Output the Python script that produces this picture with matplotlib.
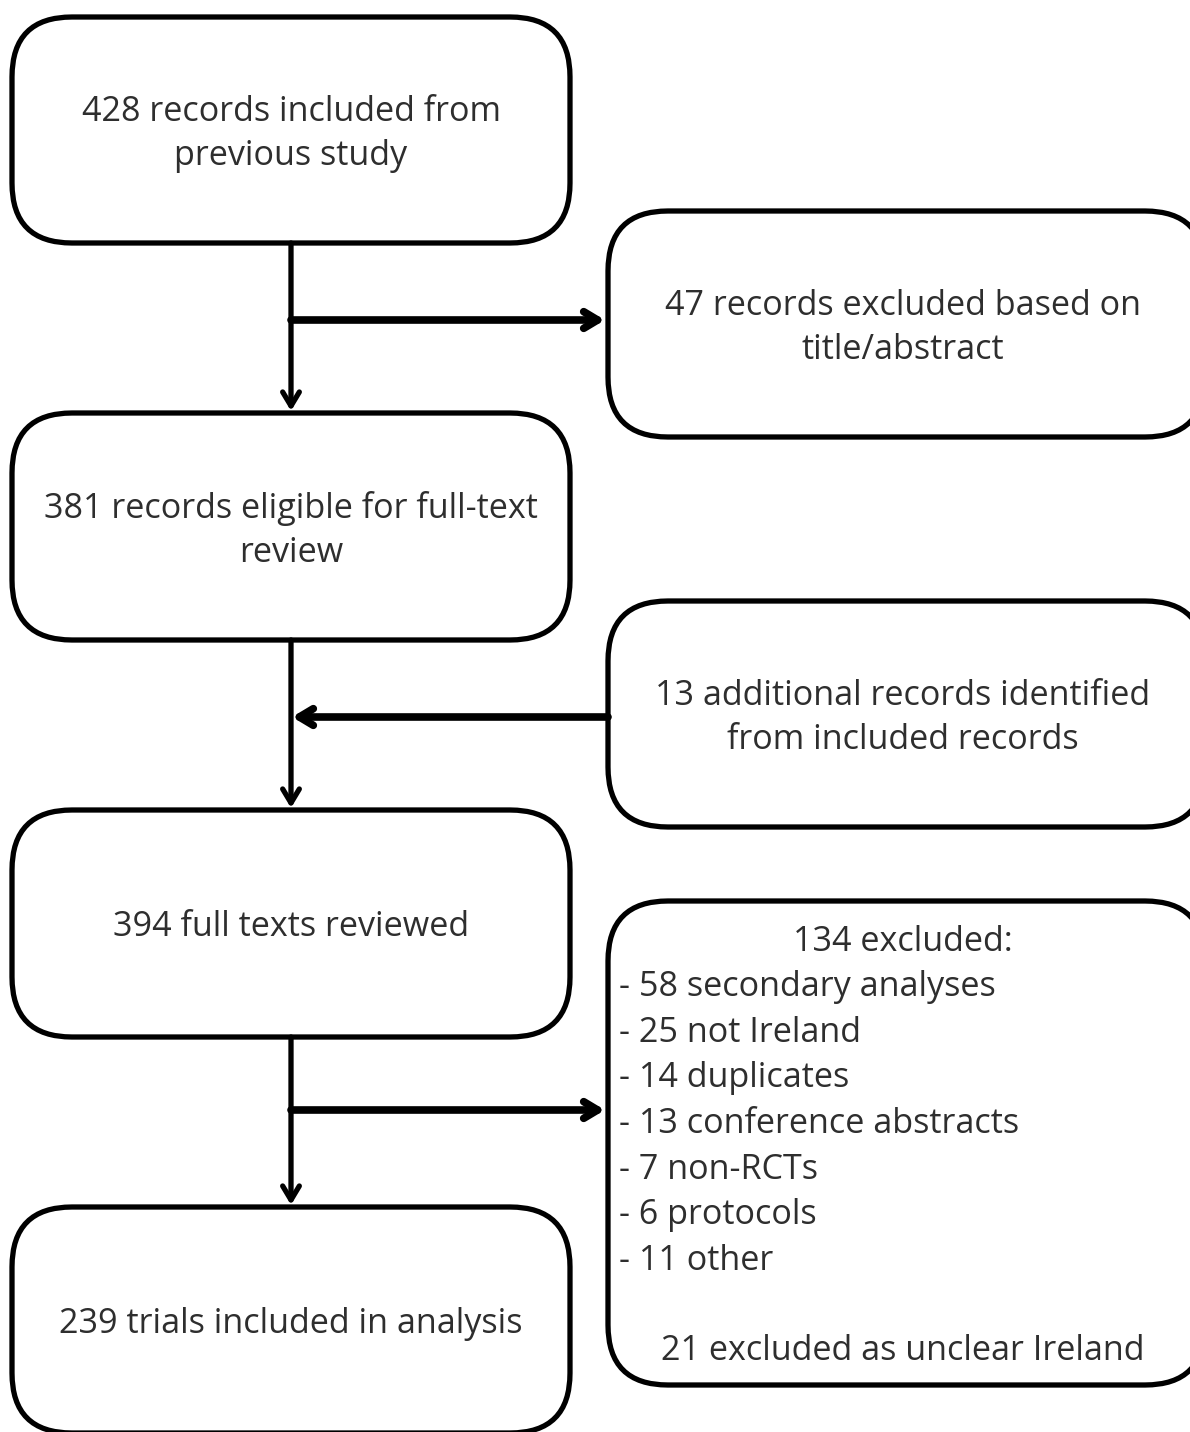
import matplotlib.pyplot as plt
from matplotlib.patches import FancyBboxPatch

plt.rcParams['font.family'] = ['Open Sans', 'DejaVu Sans']

# box texts (main column, then side column)
main_texts = [
    "428 records included from\nprevious study",
    "381 records eligible for full-text\nreview",
    "394 full texts reviewed",
    "239 trials included in analysis",
]
side_texts = [
    "47 records excluded based on\ntitle/abstract",
    "13 additional records identified\nfrom included records",
]
excl_title = "134 excluded:"
excl_items = [
    "- 58 secondary analyses",
    "- 25 not Ireland",
    "- 14 duplicates",
    "- 13 conference abstracts",
    "- 7 non-RCTs",
    "- 6 protocols",
    "- 11 other",
]
excl_footer = "21 excluded as unclear Ireland"

W, H = 1190, 1432
fig = plt.figure(figsize=(W / 100, H / 100), dpi=100)
ax = fig.add_axes([0, 0, 1, 1])
ax.set_xlim(0, W)
ax.set_ylim(H, 0)
ax.axis('off')

txt_col = '#2e2e2e'
fs = 24.6
R = 60
dy = 4  # text sits a touch below box centre


def box(x0, y0, x1, y1):
    p = FancyBboxPatch((x0 + R, y0 + R), (x1 - x0) - 2 * R, (y1 - y0) - 2 * R,
                       boxstyle=f"round,pad={R},rounding_size={R}",
                       fc='white', ec='black', lw=3.8, clip_on=True)
    ax.add_patch(p)


def arrow(x0, y0, x1, y1, lw):
    ax.annotate('', xy=(x1, y1), xytext=(x0, y0),
                arrowprops=dict(arrowstyle='->,head_length=1.0,head_width=0.6',
                                lw=lw, color='black', shrinkA=0, shrinkB=0,
                                capstyle='round', joinstyle='round'))


# main column
main_y = [(17, 243), (413, 640), (810, 1037), (1207, 1433)]
mx0, mx1 = 12, 570
for (y0, y1), t in zip(main_y, main_texts):
    box(mx0, y0, mx1, y1)
    ax.text((mx0 + mx1) / 2, (y0 + y1) / 2 + dy, t, ha='center', va='center',
            fontsize=fs, color=txt_col, linespacing=1.4)

# side column
sx0, sx1 = 608, 1205
side_y = [(211, 437), (601, 827)]
for (y0, y1), t in zip(side_y, side_texts):
    box(sx0, y0, sx1, y1)
    ax.text(903, (y0 + y1) / 2 + dy, t, ha='center', va='center',
            fontsize=fs, color=txt_col, linespacing=1.4)

# exclusion box
box(sx0, 901, sx1, 1385)
ax.text(903, 938 + dy, excl_title, ha='center', va='center', fontsize=fs, color=txt_col)
for i, t in enumerate(excl_items):
    ax.text(619, 983 + dy + i * 45.7, t, ha='left', va='center', fontsize=fs, color=txt_col)
ax.text(903, 1347 + dy, excl_footer, ha='center', va='center', fontsize=fs, color=txt_col)

# connectors
vx = 291
for (ya, yb) in [(243, 413), (640, 810), (1037, 1207)]:
    arrow(vx, ya, vx, yb - 2, 3.8)

arrow(vx, 320, sx0 - 3, 320, 5.5)
arrow(sx0, 717, vx + 1, 717, 5.5)
arrow(vx, 1110, sx0 - 3, 1110, 5.5)

fig.savefig('out.png', dpi=100, facecolor='white')
